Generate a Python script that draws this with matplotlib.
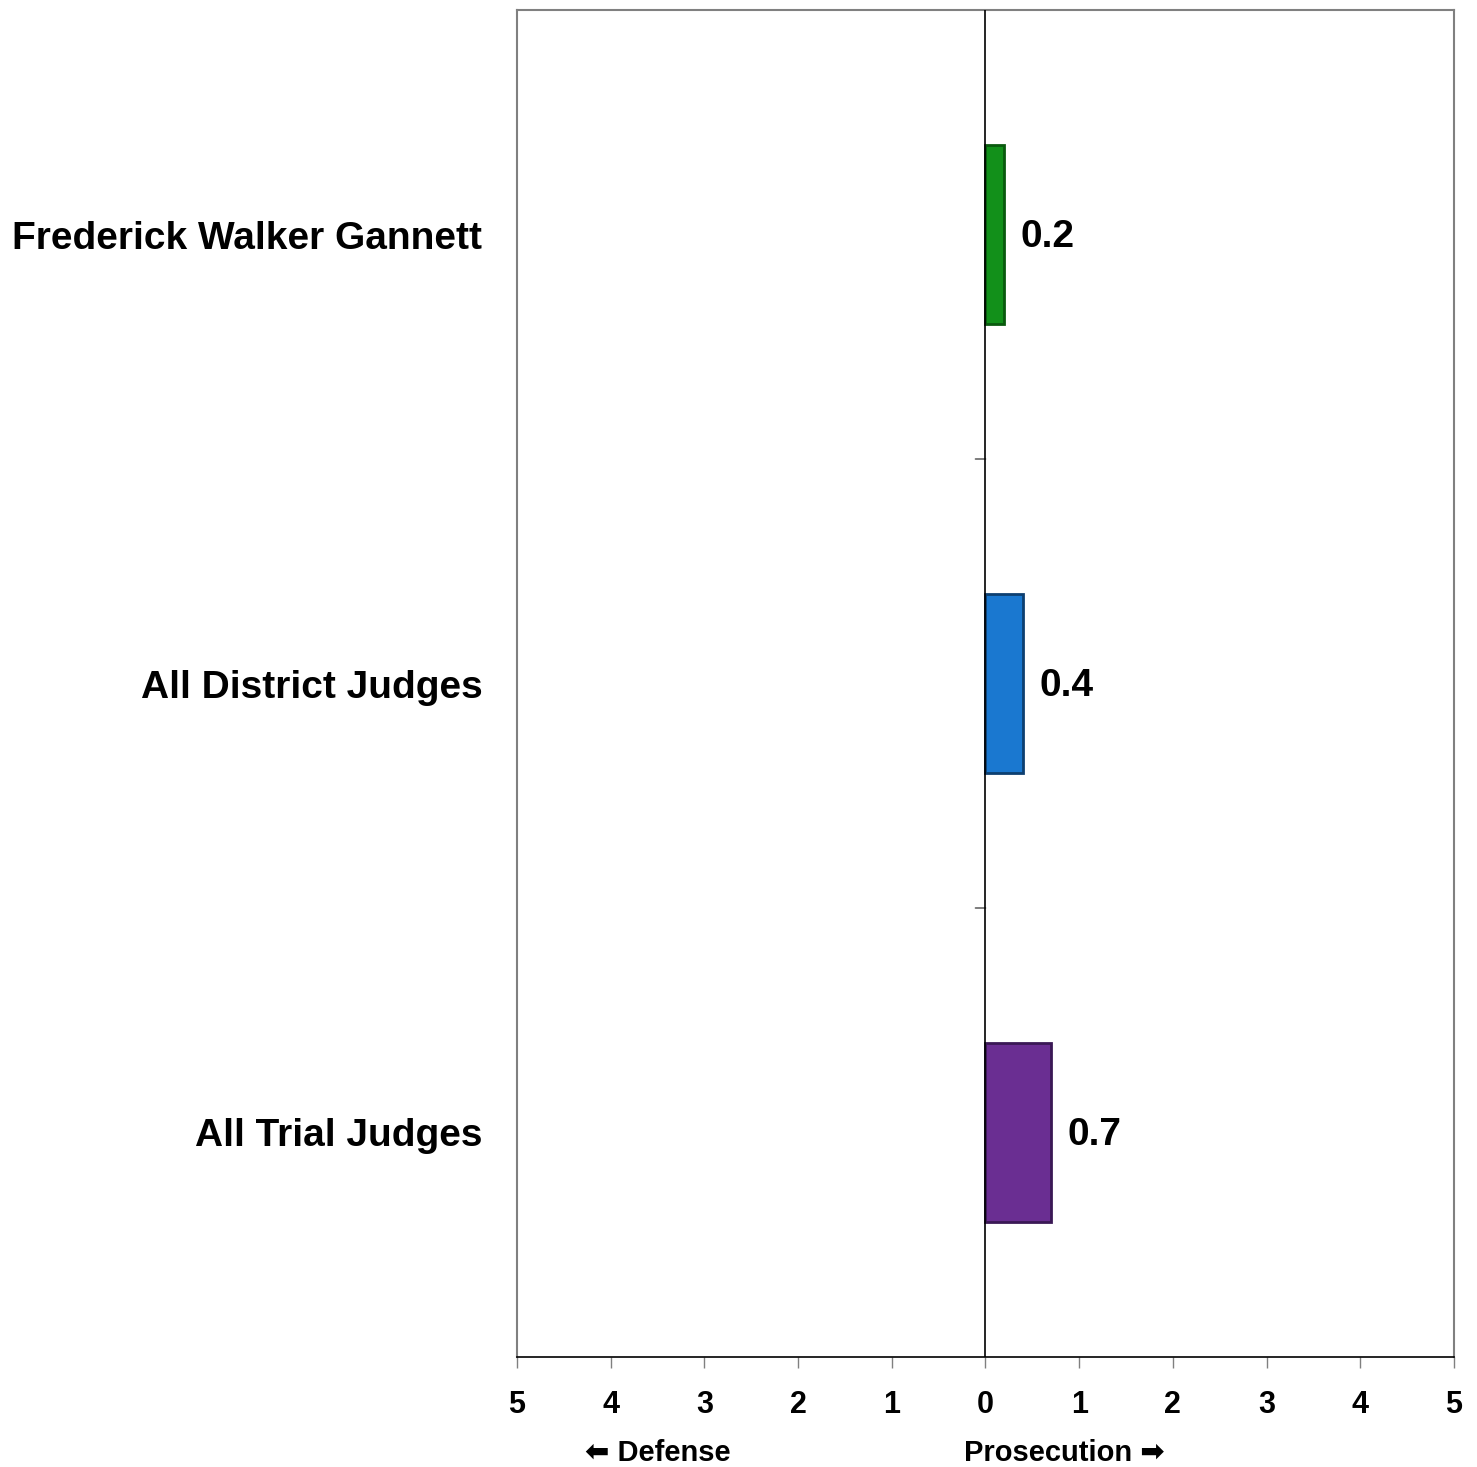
import matplotlib
matplotlib.use("Agg")
import matplotlib.pyplot as plt
from matplotlib.ticker import FuncFormatter, FixedLocator

categories = ["Frederick Walker Gannett", "All District Judges", "All Trial Judges"]
values = [0.2, 0.4, 0.7]
value_labels = ["0.2", "0.4", "0.7"]
colors = ["#12901a", "#1a78d0", "#6a2e92"]
edge_colors = ["#0a5a0e", "#0d3f70", "#3a1855"]
xticks = [-5, -4, -3, -2, -1, 0, 1, 2, 3, 4, 5]

plt.rcParams['font.family'] = ['Liberation Sans', 'DejaVu Sans']

fig = plt.figure(figsize=(14.77, 14.67), dpi=100)
ax = fig.add_axes([517/1477, 1 - 1357/1467, (1454-517)/1477, (1357-10)/1467])

ypos = list(range(len(categories)))
ax.barh(ypos, values, height=0.4, color=colors, edgecolor=edge_colors, linewidth=2, zorder=3)
ax.set_ylim(len(categories) - 0.5, -0.5)
ax.set_xlim(-5, 5)

for y, v, lab in zip(ypos, values, value_labels):
    ax.annotate(lab, xy=(v, y), xytext=(12, -2), textcoords='offset points',
                va='center', ha='left', fontsize=28, fontweight='bold', zorder=4)

ax.axvline(0, color='black', linewidth=1.2, zorder=4)
# small ticks on the zero line at category boundaries
for b in [0.5, 1.5]:
    ax.annotate('', xy=(0, b), xytext=(-10, 0), textcoords='offset pixels',
                arrowprops=dict(arrowstyle='-', color='#666666', lw=1.2,
                                shrinkA=0, shrinkB=0))

ax.set_yticks(ypos)
ax.set_yticklabels(categories, fontsize=28, fontweight='bold')
ax.tick_params(axis='y', length=0, pad=25)

ax.xaxis.set_major_locator(FixedLocator(xticks))
ax.xaxis.set_major_formatter(FuncFormatter(lambda x, p: f"{abs(int(round(x)))}"))
ax.tick_params(axis='x', length=8, width=1, color='#808080', pad=16, labelsize=22)
for t in ax.get_xticklabels():
    t.set_fontweight('bold')

for s in ['top', 'left', 'right']:
    ax.spines[s].set_color('#808080')
    ax.spines[s].set_linewidth(1.5)
ax.spines['bottom'].set_color('black')
ax.spines['bottom'].set_linewidth(1.2)

fig.text(658/1477, 1 - 1453/1467, "\u2b05 Defense", ha='center', va='center',
         fontsize=21, fontweight='bold', family=['Liberation Sans', 'DejaVu Sans'])
fig.text(1064/1477, 1 - 1453/1467, "Prosecution \u27a1", ha='center', va='center',
         fontsize=21, fontweight='bold', family=['Liberation Sans', 'DejaVu Sans'])

fig.savefig("out.png", dpi=100, facecolor='white')
